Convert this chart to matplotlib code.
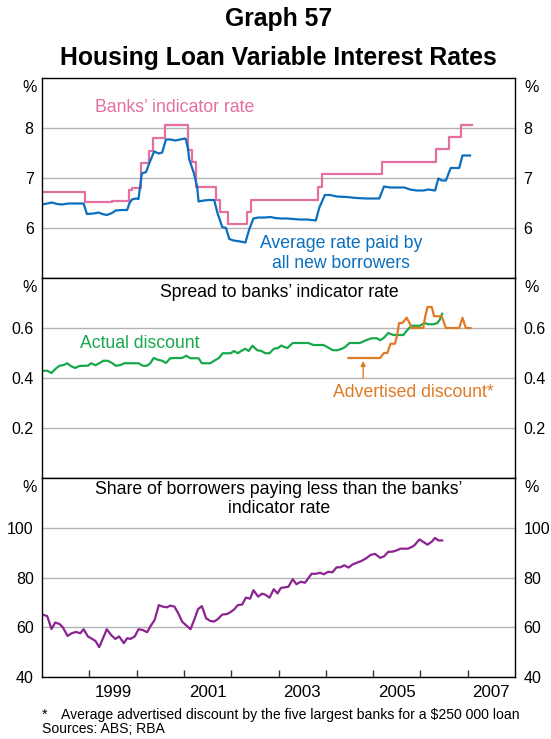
import matplotlib
matplotlib.use("Agg")
import matplotlib.pyplot as plt

plt.rcParams['font.family'] = ['Liberation Sans', 'DejaVu Sans']

# ---------------- data ----------------
indicator_dates = [1998.00, 1998.90, 1999.49, 1999.83, 1999.90, 2000.09, 2000.26, 2000.34,
                   2000.59, 2001.09, 2001.17, 2001.26, 2001.68, 2001.76, 2001.93, 2002.33,
                   2002.42, 2003.84, 2003.93, 2005.18, 2006.34, 2006.60, 2006.86, 2007.10]
indicator_rate = [6.73, 6.53, 6.55, 6.77, 6.81, 7.30, 7.55, 7.80,
                  8.07, 7.57, 7.32, 6.82, 6.57, 6.33, 6.08, 6.33,
                  6.57, 6.82, 7.08, 7.33, 7.58, 7.82, 8.07, 8.07]

avg_dates = [1998.00, 1998.11, 1998.21, 1998.32, 1998.42, 1998.56, 1998.70, 1998.88, 1998.95,
             1999.09, 1999.20, 1999.27, 1999.37, 1999.48, 1999.56, 1999.69, 1999.80, 1999.85,
             1999.90, 1999.99, 2000.04, 2000.11, 2000.20, 2000.27, 2000.37, 2000.47, 2000.54,
             2000.62, 2000.71, 2000.82, 2000.92, 2001.02, 2001.04, 2001.09, 2001.11, 2001.21,
             2001.28, 2001.31, 2001.42, 2001.52, 2001.64, 2001.71, 2001.81, 2001.89, 2001.96,
             2002.05, 2002.19, 2002.30, 2002.38, 2002.47, 2002.58, 2002.72, 2002.83, 2002.93,
             2003.05, 2003.17, 2003.31, 2003.45, 2003.60, 2003.79, 2003.86, 2003.98, 2004.09,
             2004.23, 2004.44, 2004.65, 2004.86, 2005.13, 2005.23, 2005.36, 2005.50, 2005.66,
             2005.78, 2005.92, 2006.06, 2006.17, 2006.31, 2006.38, 2006.45, 2006.54, 2006.64,
             2006.82, 2006.89, 2007.05]
avg_rate = [6.47, 6.49, 6.51, 6.48, 6.47, 6.49, 6.49, 6.49, 6.28,
            6.29, 6.31, 6.28, 6.26, 6.30, 6.35, 6.36, 6.36, 6.50,
            6.57, 6.59, 6.58, 7.09, 7.12, 7.30, 7.53, 7.49, 7.51,
            7.77, 7.77, 7.75, 7.77, 7.79, 7.78, 7.57, 7.38, 7.10,
            6.83, 6.53, 6.55, 6.56, 6.56, 6.30, 6.02, 6.00, 5.78,
            5.75, 5.73, 5.71, 5.97, 6.19, 6.21, 6.21, 6.22, 6.20,
            6.19, 6.19, 6.18, 6.17, 6.17, 6.15, 6.40, 6.66, 6.66,
            6.63, 6.62, 6.60, 6.59, 6.59, 6.83, 6.81, 6.81, 6.81,
            6.77, 6.75, 6.75, 6.77, 6.75, 6.99, 6.95, 6.95, 7.20,
            7.20, 7.45, 7.45]

actual_dates = [1998.04, 1998.11, 1998.20, 1998.28, 1998.37, 1998.46, 1998.53, 1998.62, 1998.70,
                1998.79, 1998.88, 1998.97, 1999.04, 1999.13, 1999.21, 1999.30, 1999.39, 1999.48,
                1999.56, 1999.66, 1999.74, 1999.83, 1999.94, 2000.04, 2000.13, 2000.22, 2000.29,
                2000.36, 2000.45, 2000.54, 2000.62, 2000.71, 2000.82, 2000.96, 2001.05, 2001.14,
                2001.23, 2001.31, 2001.38, 2001.49, 2001.56, 2001.64, 2001.74, 2001.82, 2001.91,
                2001.99, 2002.06, 2002.14, 2002.21, 2002.30, 2002.37, 2002.45, 2002.55, 2002.64,
                2002.72, 2002.81, 2002.90, 2002.99, 2003.06, 2003.12, 2003.19, 2003.30, 2003.42,
                2003.52, 2003.63, 2003.74, 2003.84, 2003.95, 2004.03, 2004.15, 2004.24, 2004.34,
                2004.41, 2004.50, 2004.60, 2004.72, 2004.85, 2004.97, 2005.08, 2005.15, 2005.23,
                2005.32, 2005.43, 2005.53, 2005.64, 2005.72, 2005.81, 2005.92, 2005.99, 2006.08,
                2006.17, 2006.28, 2006.36, 2006.41, 2006.46]
actual_discount = [0.429, 0.429, 0.420, 0.436, 0.449, 0.452, 0.459, 0.447, 0.440,
                   0.448, 0.449, 0.449, 0.459, 0.451, 0.459, 0.469, 0.469, 0.460,
                   0.449, 0.452, 0.459, 0.459, 0.459, 0.459, 0.449, 0.449, 0.459,
                   0.480, 0.473, 0.469, 0.460, 0.479, 0.480, 0.480, 0.489, 0.479,
                   0.479, 0.479, 0.459, 0.459, 0.459, 0.469, 0.480, 0.499, 0.499,
                   0.499, 0.508, 0.499, 0.508, 0.517, 0.508, 0.529, 0.511, 0.508,
                   0.499, 0.499, 0.517, 0.520, 0.530, 0.524, 0.520, 0.540, 0.540,
                   0.540, 0.540, 0.532, 0.532, 0.532, 0.524, 0.511, 0.511, 0.517,
                   0.524, 0.540, 0.540, 0.540, 0.551, 0.559, 0.559, 0.551, 0.561,
                   0.580, 0.572, 0.572, 0.572, 0.591, 0.609, 0.609, 0.609, 0.620,
                   0.615, 0.615, 0.620, 0.633, 0.657]

advert_dates = [2004.48, 2004.65, 2004.82, 2004.98, 2005.15, 2005.23, 2005.30, 2005.37, 2005.46,
                2005.50, 2005.55, 2005.62, 2005.71, 2005.77, 2005.81, 2005.90, 2006.06, 2006.10,
                2006.15, 2006.24, 2006.29, 2006.45, 2006.54, 2006.65, 2006.82, 2006.89, 2006.96,
                2007.06]
advert_discount = [0.480, 0.480, 0.480, 0.480, 0.480, 0.500, 0.500, 0.537, 0.537,
                   0.564, 0.620, 0.620, 0.641, 0.620, 0.600, 0.600, 0.600, 0.644,
                   0.684, 0.684, 0.647, 0.647, 0.600, 0.600, 0.600, 0.641, 0.600,
                   0.600]

share_dates = [1998.04, 1998.11, 1998.20, 1998.28, 1998.37, 1998.44, 1998.54, 1998.63, 1998.72,
               1998.81, 1998.88, 1998.97, 1999.06, 1999.13, 1999.21, 1999.29, 1999.37, 1999.46,
               1999.55, 1999.63, 1999.73, 1999.80, 1999.87, 1999.96, 2000.04, 2000.13, 2000.22,
               2000.29, 2000.38, 2000.47, 2000.55, 2000.64, 2000.71, 2000.80, 2000.89, 2000.96,
               2001.04, 2001.14, 2001.23, 2001.30, 2001.38, 2001.47, 2001.56, 2001.64, 2001.72,
               2001.81, 2001.91, 2001.98, 2002.07, 2002.14, 2002.23, 2002.31, 2002.40, 2002.47,
               2002.57, 2002.65, 2002.72, 2002.81, 2002.90, 2002.98, 2003.05, 2003.12, 2003.21,
               2003.30, 2003.38, 2003.47, 2003.56, 2003.70, 2003.79, 2003.88, 2003.96, 2004.05,
               2004.14, 2004.23, 2004.31, 2004.39, 2004.48, 2004.57, 2004.65, 2004.76, 2004.85,
               2004.95, 2005.04, 2005.15, 2005.23, 2005.32, 2005.41, 2005.50, 2005.58, 2005.67,
               2005.74, 2005.84, 2005.88, 2005.98, 2006.06, 2006.15, 2006.24, 2006.31, 2006.38,
               2006.46]
share_paying_less = [64.9, 64.5, 59.3, 61.9, 61.3, 60.0, 56.5, 57.6, 58.1,
                     57.6, 59.2, 56.3, 55.3, 54.5, 52.0, 55.6, 59.2, 56.9,
                     55.3, 56.3, 53.6, 55.6, 55.3, 56.3, 59.2, 58.9, 58.0,
                     60.3, 62.9, 68.9, 68.3, 68.0, 68.7, 68.3, 65.3, 62.3,
                     60.9, 59.2, 63.6, 67.3, 68.5, 63.6, 62.5, 62.3, 63.3,
                     65.1, 65.3, 66.0, 67.3, 68.9, 69.1, 71.9, 71.5, 74.9,
                     72.3, 73.5, 73.1, 71.9, 75.3, 73.6, 75.8, 76.0, 76.3,
                     79.3, 77.3, 78.3, 77.9, 81.5, 81.5, 81.9, 81.3, 82.3,
                     82.1, 84.1, 84.1, 84.9, 84.0, 85.3, 85.9, 86.7, 87.7,
                     89.1, 89.5, 87.9, 88.5, 90.3, 90.4, 90.9, 91.6, 91.6,
                     91.6, 92.5, 93.1, 95.3, 94.3, 93.2, 94.4, 95.9, 94.9,
                     94.9]

year_ticks = list(range(1999, 2008))
year_labels = ['1999', '2001', '2003', '2005', '2007']

# ---------------- styling ----------------
PINK = '#E56FA0'
BLUE = '#0A6FBF'
GREEN = '#17A84B'
ORANGE = '#E07B25'
PURPLE = '#8B2390'
GRID = '#B4B4B8'
FS_TICK = 11.5
FS_X = 12.2
FS_LAB = 12.7

W, H = 551, 739
fig = plt.figure(figsize=(W / 100, H / 100), dpi=100)
L, R = 42, 515


def make_ax(top, bottom):
    ax = fig.add_axes([L / W, 1 - bottom / H, (R - L) / W, (bottom - top) / H])
    ax.set_xlim(1998, 2008)
    for s in ax.spines.values():
        s.set_color('black')
        s.set_linewidth(1.0)
    ax.tick_params(axis='y', length=0, labelsize=FS_TICK, labelleft=True, labelright=True,
                   pad=6)
    ax.yaxis.grid(True, color=GRID, linewidth=1.0)
    ax.set_axisbelow(True)
    ax.set_xticks([])
    fig.text(30 / W, 1 - (top + 9) / H, '%', ha='center', va='center', fontsize=FS_TICK)
    fig.text(532 / W, 1 - (top + 9) / H, '%', ha='center', va='center', fontsize=FS_TICK)
    return ax


ax1 = make_ax(78, 278)
ax2 = make_ax(278, 478)
ax3 = make_ax(478, 677)

# --- top panel
ax1.set_ylim(5, 9)
ax1.set_yticks([6, 7, 8])
ax1.set_yticklabels(['6', '7', '8'])
ax1.plot(indicator_dates, indicator_rate, drawstyle='steps-post', color=PINK, lw=1.6)
ax1.plot(avg_dates, avg_rate, color=BLUE, lw=1.6)
ax1.text(2000.81, 8.41, 'Banks\u2019 indicator rate', color=PINK, fontsize=FS_LAB,
         ha='center', va='center')
ax1.text(2004.32, 5.70, 'Average rate paid by', color=BLUE, fontsize=FS_LAB,
         ha='center', va='center')
ax1.text(2004.32, 5.30, 'all new borrowers', color=BLUE, fontsize=FS_LAB,
         ha='center', va='center')

# --- middle panel
ax2.set_ylim(0, 0.8)
ax2.set_yticks([0.2, 0.4, 0.6])
ax2.set_yticklabels(['0.2', '0.4', '0.6'])
ax2.plot(actual_dates, actual_discount, color=GREEN, lw=1.6)
ax2.plot(advert_dates, advert_discount, color=ORANGE, lw=1.6)
ax2.text(0.501, 0.925, 'Spread to banks\u2019 indicator rate', transform=ax2.transAxes,
         ha='center', va='center', fontsize=FS_LAB)
ax2.text(2000.06, 0.538, 'Actual discount', color=GREEN, fontsize=FS_LAB,
         ha='center', va='center')
ax2.text(2005.84, 0.342, 'Advertised discount*', color=ORANGE, fontsize=FS_LAB,
         ha='center', va='center')
ax2.annotate('', xy=(2004.79, 0.468), xytext=(2004.79, 0.400),
             arrowprops=dict(arrowstyle='-|>', color=ORANGE, lw=1.0,
                             mutation_scale=7, shrinkA=0, shrinkB=0))

# --- bottom panel
ax3.set_ylim(40, 120)
ax3.set_yticks([40, 60, 80, 100])
ax3.set_yticklabels(['40', '60', '80', '100'])
ax3.plot(share_dates, share_paying_less, color=PURPLE, lw=1.6)
ax3.text(0.501, 0.94, 'Share of borrowers paying less than the banks\u2019',
         transform=ax3.transAxes, ha='center', va='center', fontsize=FS_LAB)
ax3.text(0.501, 0.848, 'indicator rate',
         transform=ax3.transAxes, ha='center', va='center', fontsize=FS_LAB)
ax3.set_xticks(year_ticks)
ax3.set_xticklabels([])
ax3.set_xticks([y + 0.5 for y in range(1999, 2008, 2)], minor=True)
ax3.set_xticklabels(year_labels, minor=True)
ax3.tick_params(axis='x', which='major', direction='in', length=5, width=1.0,
                color='#333333')
ax3.tick_params(axis='x', which='minor', length=0, labelsize=FS_X, pad=6)

# --- titles
fig.text(0.505, 1 - 19 / H, 'Graph 57', ha='center', va='center', fontsize=17.8,
         fontweight='bold')
fig.text(0.505, 1 - 58 / H, 'Housing Loan Variable Interest Rates', ha='center', va='center',
         fontsize=17.8, fontweight='bold')

# --- footnotes
fig.text(42 / W, 1 - 715 / H, '*', ha='left', va='center', fontsize=10.1)
fig.text(61 / W, 1 - 715 / H,
         'Average advertised discount by the five largest banks for a $250 000 loan',
         ha='left', va='center', fontsize=10.1)
fig.text(42 / W, 1 - 729 / H, 'Sources: ABS; RBA', ha='left', va='center', fontsize=10.1)

fig.savefig('out.png', dpi=100)
